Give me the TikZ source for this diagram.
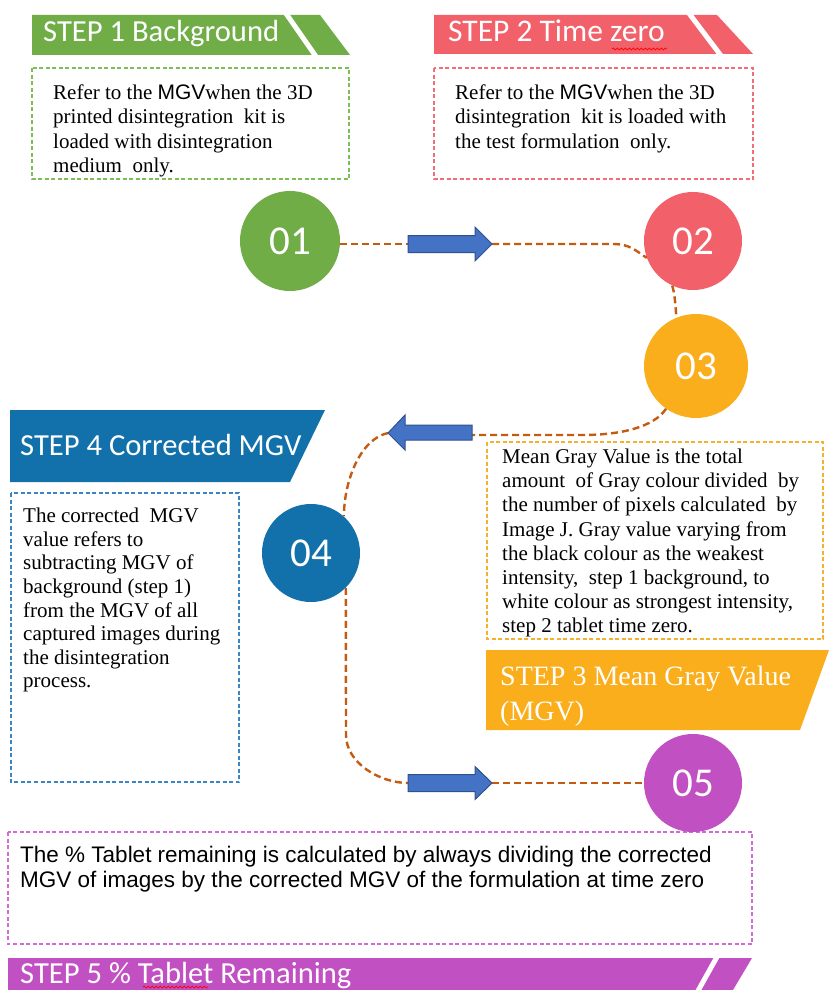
\documentclass[tikz,border=0pt]{standalone}
\usepackage{fontspec}
\setmainfont{Liberation Serif}
\setsansfont{Liberation Sans}
\newfontfamily\hdfont{Carlito}
\usetikzlibrary{calc,decorations.pathmorphing}
\definecolor{cgreen}{HTML}{70AD47}
\definecolor{cred}{HTML}{F2606A}
\definecolor{corange}{HTML}{FAAE1C}
\definecolor{cblue}{HTML}{1271AB}
\definecolor{cpurple}{HTML}{C150C2}
\definecolor{carrow}{HTML}{4472C4}
\definecolor{carrowb}{HTML}{2F528F}
\definecolor{cconn}{HTML}{C55A11}
\definecolor{lgreen}{HTML}{7DBE55}
\definecolor{lred}{HTML}{F06E78}
\definecolor{lorange}{HTML}{F6B02E}
\definecolor{lblue}{HTML}{3A86C4}
\definecolor{lpurple}{HTML}{D06CD6}
\begin{document}
\begin{tikzpicture}[x=1pt,y=-1pt,
  conn/.style={draw=cconn, line width=2.4pt, dash pattern=on 7pt off 4pt},
  bx/.style={line width=1.4pt, dash pattern=on 4pt off 2.5pt},
  body/.style={anchor=north west, inner sep=0pt, align=left, font=\fontsize{21}{24.5}\selectfont},
  hd/.style={anchor=base west, inner sep=0pt, text=white, font=\hdfont\fontsize{30.6}{31}\selectfont},
  num/.style={circle, inner sep=0pt, minimum size=98pt, text=white, font=\hdfont\fontsize{41}{41}\selectfont},
  barr/.style={fill=carrow, draw=carrowb, line width=1pt, line join=miter},
  wavy/.style={draw=red, line width=0.7pt, decorate, decoration={snake, amplitude=1pt, segment length=4pt}}
]
\useasboundingbox (0,0) rectangle (829,990);
\fill[white] (0,0) rectangle (829,990);

% ---------- headers ----------
\fill[cgreen] (32,15) -- (320,15) -- (350,55) -- (32,55) -- cycle;
\draw[white, line width=5pt] (285,12) -- (317,58);
\node[hd] (h1) at (43,42) {STEP 1 Background};

\fill[cred] (434,15) -- (717,15) -- (753,54) -- (434,54) -- cycle;
\draw[white, line width=5pt] (688,12) -- (722,57);
\node[hd, font=\hdfont\fontsize{31.5}{32}\selectfont] (h2) at (448,42) {STEP 2 Time zero};
\draw[wavy] (612,49) -- (667,49);

\fill[cblue] (10,410) -- (325,410) -- (290,482) -- (10,482) -- cycle;
\node[hd] (h4) at (20,455) {STEP 4 Corrected MGV};

\fill[corange] (486,650) -- (829,650) -- (800,730) -- (486,730) -- cycle;
\node[anchor=north west, inner sep=0pt, align=left, text=white,
      font=\fontsize{28}{35}\selectfont] (h3) at (500,666) {STEP 3 Mean Gray Value\\(MGV)};

\fill[cpurple] (8,958) -- (752,958) -- (730,995) -- (8,995) -- cycle;
\draw[white, line width=5pt] (718,955) -- (694,998);
\node[hd] (h5) at (20,983) {STEP 5 \% Tablet Remaining};

% ---------- dashed text boxes ----------
\draw[bx, lgreen] (32,68) rectangle (349,179);
\node[body] (t1) at (53,84.5) {Refer to the {\sffamily MGV}when the 3D\\printed disintegration\ \ kit is\\loaded with disintegration\\medium\ \ only.};

\draw[bx, lred] (434,68) rectangle (753,179);
\node[body] (t2) at (455,84.5) {Refer to the {\sffamily MGV}when the 3D\\disintegration\ \ kit is loaded with\\the test formulation\ \ only.};

\draw[bx, lorange] (487,442) rectangle (823,639);
\node[body, font=\fontsize{21}{24.1}\selectfont] (t3) at (502,449) {Mean Gray Value is the total\\amount\ \ of Gray colour divided\ \ by\\the number of pixels calculated\ \ by\\Image J. Gray value varying from\\the black colour as the weakest\\intensity,\ \ step 1 background, to\\white colour as strongest intensity,\\step 2 tablet time zero.};

\draw[bx, lblue] (11,493) rectangle (239,782);
\node[body, font=\fontsize{21}{23.6}\selectfont] (t4) at (23,508) {The corrected\ \ MGV\\value refers to\\subtracting MGV of\\background (step 1)\\from the MGV of all\\captured images during\\the disintegration\\process.};

\draw[bx, lpurple] (8,832) rectangle (752,944);
\node[anchor=north west, inner sep=0pt, align=left, font=\sffamily\fontsize{22.5}{25}\selectfont] (t5) at (20,846) {The \% Tablet remaining is calculated by always dividing the corrected\\MGV of images by the corrected MGV of the formulation at time zero};

% ---------- circles ----------
\node[num, fill=cgreen, minimum size=100pt] (c1) at (290,241) {01};
\node[num, fill=cred] (c2) at (693,241) {02};
\node[num, fill=corange, minimum size=104pt] (c3) at (696,366) {03};
\node[num, fill=cblue] (c4) at (311,553) {04};
\node[num, fill=cpurple] (c5) at (693,783) {05};

% ---------- arrow anchor points ----------
\coordinate (a1t) at (408,244);
\coordinate (a1h) at (492,244);
\coordinate (a2t) at (472,435);
\coordinate (a2h) at (388,433);
\coordinate (a3t) at (408,783);
\coordinate (a3h) at (492,783);

% ---------- connectors ----------
\draw[conn] (a1t -| c1.east) -- (a1t);
\draw[conn] (a1h) -- ($(a1h)+(121,0)$) .. controls +(18,0) and +(-10,-6) .. (c2.200);
\draw[conn] (c2.-115) .. controls +(3,10) and +(-1,-10) .. (c3.112);
\draw[conn] (c3.-125) .. controls +(-12,18) and +(40,0) .. ($(a2t)+(110,0)$) -- (a2t);
\draw[conn] (a2h) .. controls +(-28,6) and +(0,-35) .. (c4.48);
\draw[conn] (c4.-45) -- ($(a3t)+(-62,-48)$) .. controls +(0,28) and +(-28,0) .. (a3t);
\draw[conn] (a3h) -- (a3h -| c5.west);

% ---------- block arrows ----------
\draw[barr] ($(a1t)+(0,-8.5)$) -- ($(a1h)+(-17,-8.5)$) -- ($(a1h)+(-17,-17)$) -- (a1h)
  -- ($(a1h)+(-17,17)$) -- ($(a1h)+(-17,8.5)$) -- ($(a1t)+(0,8.5)$) -- cycle;
\draw[barr] ($(a2t)+(0,-10)$) -- ($(a2h)+(17,-8)$) -- ($(a2h)+(17,-18)$) -- (a2h)
  -- ($(a2h)+(17,17)$) -- ($(a2h)+(17,7)$) -- ($(a2t)+(0,5)$) -- cycle;
\draw[barr] ($(a3t)+(0,-8.5)$) -- ($(a3h)+(-17,-8.5)$) -- ($(a3h)+(-17,-16.5)$) -- (a3h)
  -- ($(a3h)+(-17,16.5)$) -- ($(a3h)+(-17,8.5)$) -- ($(a3t)+(0,8.5)$) -- cycle;

\draw[wavy] (143,987) -- (208,987);
\end{tikzpicture}
\end{document}
